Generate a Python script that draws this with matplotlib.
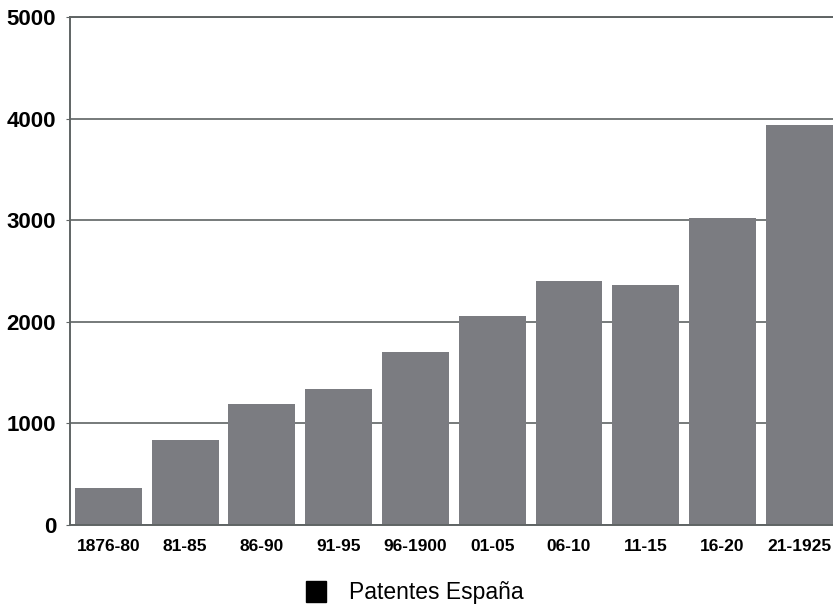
import matplotlib
matplotlib.use("Agg")
import matplotlib.pyplot as plt
from matplotlib.patches import Patch

periods = ["1876-80", "81-85", "86-90", "91-95", "96-1900",
           "01-05", "06-10", "11-15", "16-20", "21-1925"]
patentes = [360, 830, 1190, 1340, 1700, 2060, 2400, 2360, 3020, 3940]
yticks = [0, 1000, 2000, 3000, 4000, 5000]

plt.rcParams['font.family'] = ['Liberation Sans', 'DejaVu Sans']

fig = plt.figure(figsize=(8.33, 6.06), dpi=100)
ax = fig.add_axes([0.084, 0.134, 0.916, 0.838])

ax.set_axisbelow(True)
ax.yaxis.grid(True, color="#5f6464", linewidth=1.2)
ax.bar(range(len(periods)), patentes, width=0.87, color="#7b7c81")

ax.set_xlim(-0.5, 9.44)
ax.set_ylim(0, 5000)
ax.set_yticks(yticks)
ax.set_yticklabels([str(v) for v in yticks], fontsize=16, fontweight="bold")
ax.set_xticks(range(len(periods)))
ax.set_xticklabels(periods, fontsize=12.5, fontweight="bold")
ax.tick_params(axis="x", length=0, pad=10)
ax.tick_params(axis="y", length=3, pad=7, color="#5f6464")

for side in ["left", "bottom", "top"]:
    ax.spines[side].set_color("#5f6464")
    ax.spines[side].set_linewidth(1.4)
ax.spines["right"].set_visible(False)

fig.legend(handles=[Patch(color="black", label="Patentes España")],
           loc="center", bbox_to_anchor=(0.498, 0.022), frameon=False,
           fontsize=16.5, handlelength=0.9, handleheight=1.0, handletextpad=1.0)

fig.savefig("out.png", dpi=100)
